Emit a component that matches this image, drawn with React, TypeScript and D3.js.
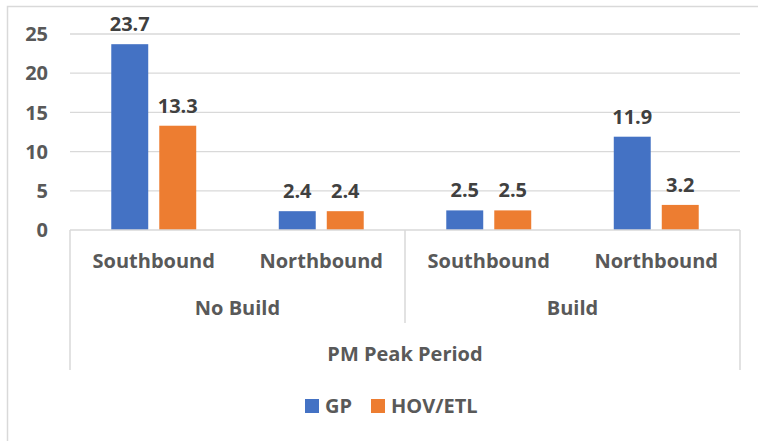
import { scaleBand, scaleLinear } from 'd3'

const groups = ['No Build', 'Build']
const directions = ['Southbound', 'Northbound']
const seriesNames = ['GP', 'HOV/ETL']
const gpValues = [23.7, 2.4, 2.5, 11.9]
const hovValues = [13.3, 2.4, 2.5, 3.2]
const yTickValues = [0, 5, 10, 15, 20, 25]
const periodLabel = 'PM Peak Period'

const width = 758
const height = 441
const plot = { left: 70, right: 740, top: 34, bottom: 230 }
const colors = ['#4472C4', '#ED7D31']
const fontFamily = '"Open Sans", "Liberation Sans", sans-serif'

const categories = groups.flatMap((g) => directions.map((d) => `${g}|${d}`))
const seriesValues = [gpValues, hovValues]

function App() {
  const x0 = scaleBand().domain(categories).range([plot.left, plot.right])
  const x1 = scaleBand()
    .domain(seriesNames)
    .range([0, x0.bandwidth()])
    .paddingInner(0.23)
    .paddingOuter(0.86)
  const y = scaleLinear().domain([0, 25]).range([plot.bottom, plot.top])
  const groupBand = scaleBand().domain(groups).range([plot.left, plot.right])

  return (
    <svg
      width={width}
      height={height}
      style={{ position: 'absolute', left: 0, top: 0, background: '#fff' }}
      fontFamily={fontFamily}
      fontWeight={700}
    >
      <rect x={7.5} y={6.5} width={800} height={500} fill="#fff" stroke="#d9d9d9" strokeWidth={1.5} />

      {yTickValues.map((tick) => (
        <g key={tick}>
          {tick > 0 && (
            <line x1={plot.left} x2={plot.right} y1={y(tick)} y2={y(tick)} stroke="#d9d9d9" strokeWidth={1.3} />
          )}
          <text x={48} y={y(tick)} dy="0.36em" textAnchor="end" fontSize={20} fill="#595959">
            {tick}
          </text>
        </g>
      ))}

      {categories.map((cat, ci) =>
        seriesNames.map((s, si) => {
          const v = seriesValues[si][ci]
          const bx = (x0(cat) ?? 0) + (x1(s) ?? 0)
          return (
            <g key={`${cat}-${s}`}>
              <rect x={bx} y={y(v)} width={x1.bandwidth()} height={plot.bottom - y(v)} fill={colors[si]} />
              <text
                x={bx + x1.bandwidth() / 2}
                y={y(v) - 13}
                textAnchor="middle"
                fontSize={20}
                fill="#404040"
              >
                {v.toFixed(1)}
              </text>
            </g>
          )
        }),
      )}

      {/* category axis */}
      <line x1={plot.left} x2={plot.right} y1={plot.bottom} y2={plot.bottom} stroke="#d9d9d9" strokeWidth={1.5} />
      <line x1={plot.left} x2={plot.left} y1={plot.bottom} y2={370} stroke="#d9d9d9" strokeWidth={1.5} />
      <line x1={plot.right} x2={plot.right} y1={plot.bottom} y2={370} stroke="#d9d9d9" strokeWidth={1.5} />
      {groups.slice(1).map((g) => (
        <line
          key={g}
          x1={groupBand(g) ?? 0}
          x2={groupBand(g) ?? 0}
          y1={plot.bottom}
          y2={323}
          stroke="#d9d9d9"
          strokeWidth={1.5}
        />
      ))}

      {categories.map((cat) => (
        <text
          key={`${cat}-label`}
          x={(x0(cat) ?? 0) + x0.bandwidth() / 2}
          y={268}
          textAnchor="middle"
          fontSize={20}
          fill="#595959"
        >
          {cat.split('|')[1]}
        </text>
      ))}

      {groups.map((g) => (
        <text
          key={`${g}-label`}
          x={(groupBand(g) ?? 0) + groupBand.bandwidth() / 2}
          y={315}
          textAnchor="middle"
          fontSize={20}
          fill="#595959"
        >
          {g}
        </text>
      ))}

      <text x={(plot.left + plot.right) / 2} y={361} textAnchor="middle" fontSize={20} fill="#595959">
        {periodLabel}
      </text>

      {/* legend */}
      {seriesNames.map((s, i) => {
        const lx = i === 0 ? 305 : 371
        return (
          <g key={`${s}-legend`}>
            <rect x={lx} y={399} width={14} height={14} fill={colors[i]} />
            <text x={lx + 20} y={413} fontSize={20} fill="#595959">
              {s}
            </text>
          </g>
        )
      })}
    </svg>
  )
}

export default App
